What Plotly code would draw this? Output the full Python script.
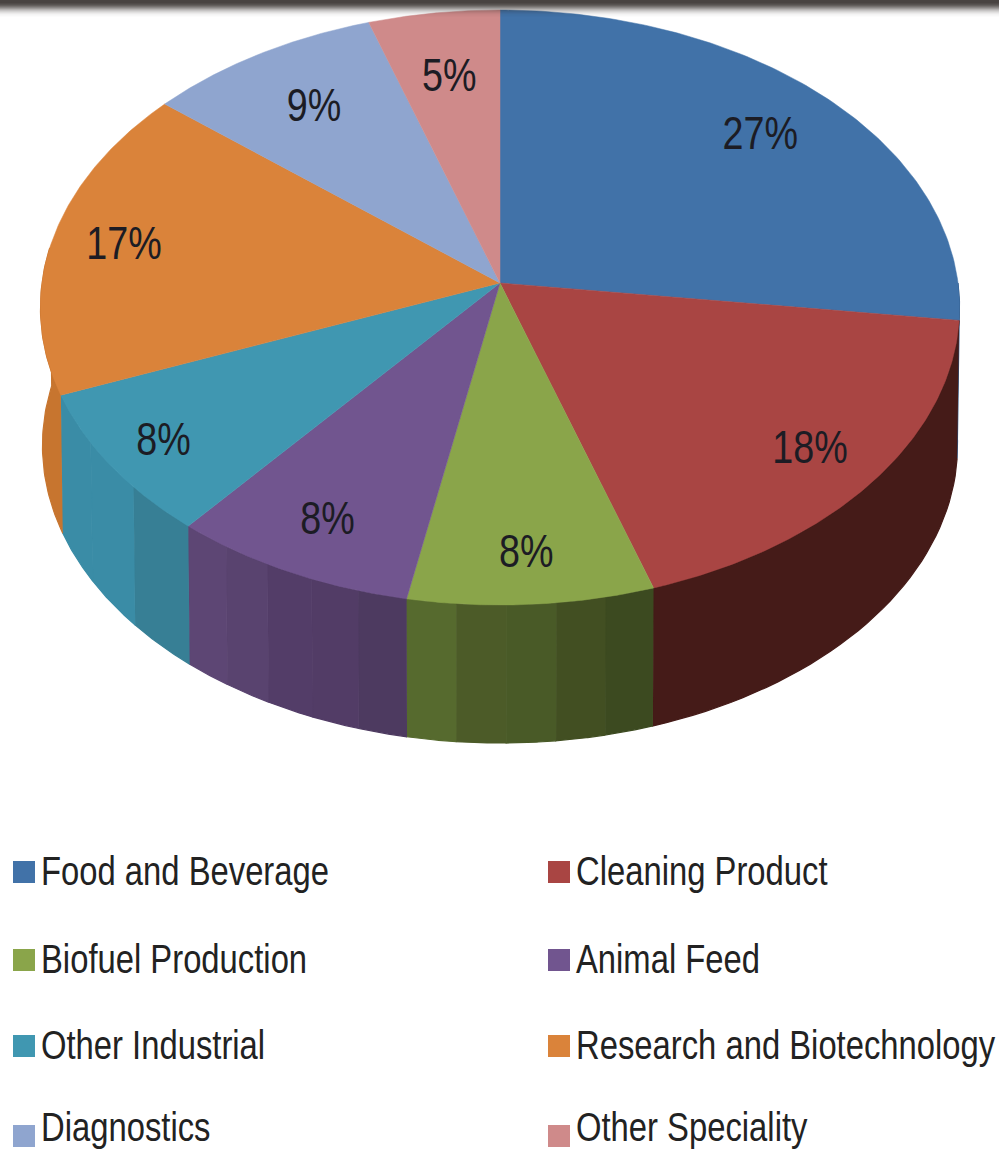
import numpy as np
import plotly.graph_objects as go

# ---- data ----
categories = ["Food and Beverage", "Cleaning Product", "Biofuel Production", "Animal Feed",
              "Other Industrial", "Research and Biotechnology", "Diagnostics", "Other Speciality"]
values = [27, 18, 8, 8, 8, 17, 9, 5]
colors = ["#4172a8", "#a94543", "#8aa54a", "#71558f", "#4097b1", "#da833a", "#8fa5cf", "#cf8a8a"]
# wall facets, going clockwise round the front of the pie
wall_colors = [
    ["#2f5480"],
    ["#451b18"],
    ["#3c4a20", "#424f22", "#495a27", "#4c5b28", "#566a2e"],
    ["#4d3a60", "#523c66", "#533d68", "#59436f", "#5d4674"],
    ["#377f95", "#3a8ca6", "#3a8ca6"],
    ["#c7752f"],
    ["#6f80a2"],
    ["#a26c6c"],
]
label_radius = [0.79, 0.84, 0.85, 0.83, 0.87, 0.84, 0.76, 0.75]

# ---- layout constants ----
W, H = 999, 1156
CX, CY = 500, 283
A, B, K = 458, 295.5, 0.0824
DEPTH = 138
A_LOW = 456
LABEL_DY = 3
NARROW = 0.82   # Liberation Sans squeezed to the proportions of a narrow face


def project(theta, r=1.0, a=A, dy=0.0):
    u, v = r * np.sin(theta), r * np.cos(theta)
    d = 1 + K * v
    return CX + a * u / d, CY + dy - B * v / d


fig = go.Figure()
shares = np.array(values, dtype=float) / sum(values)
edges = np.concatenate([[0], np.cumsum(shares)]) * 2 * np.pi

# walls: only the front of the pie can be seen
for i in range(len(values)):
    t0, t1 = edges[i], edges[i + 1]
    lo, hi = max(t0, np.pi / 2), min(t1, 3 * np.pi / 2 + 0.12)
    if hi <= lo:
        continue
    shades = wall_colors[i]
    cuts = np.linspace(lo, hi, len(shades) + 1)
    for j, shade in enumerate(shades):
        t = np.linspace(cuts[j], cuts[j + 1], 40)
        x1, y1 = project(t)
        x2, y2 = project(t[::-1], a=A_LOW, dy=DEPTH)
        fig.add_trace(go.Scatter(x=np.r_[x1, x2], y=np.r_[y1, y2], mode="lines", fill="toself",
                                 fillcolor=shade, line=dict(color=shade, width=1.2),
                                 hoverinfo="skip", showlegend=False))

# top face
for i, c in enumerate(colors):
    t = np.linspace(edges[i], edges[i + 1], 120)
    x, y = project(t)
    fig.add_trace(go.Scatter(x=np.r_[CX, x, CX], y=np.r_[CY, y, CY], mode="lines", fill="toself",
                             fillcolor=c, line=dict(color=c, width=0.5),
                             name=categories[i], hoverinfo="skip", showlegend=False))

# percentage labels
mid = (edges[:-1] + edges[1:]) / 2
lx, ly = project(mid, r=np.array(label_radius))
fig.add_trace(go.Scatter(x=lx, y=ly + LABEL_DY, mode="text", text=[f"{v}%" for v in values],
                         textposition="middle center",
                         textfont=dict(family="Liberation Sans", size=46, color="#1c1c24"),
                         hoverinfo="skip", showlegend=False))

# legend, two columns
swatch_x = [24, 559]
text_x = [41, 576]
swatch_rows_y = [872, 960, 1046, 1136]
text_rows_y = [875, 963, 1049, 1131]
for i, name in enumerate(categories):
    col, row = i % 2, i // 2
    fig.add_trace(go.Scatter(x=[swatch_x[col]], y=[swatch_rows_y[row]], mode="markers",
                             marker=dict(symbol="square", size=22, color=colors[i]),
                             hoverinfo="skip", showlegend=False))
    fig.add_trace(go.Scatter(x=[text_x[col]], y=[text_rows_y[row]], mode="text", text=[name],
                             textposition="middle right",
                             textfont=dict(family="Liberation Sans", size=40, color="#222222"),
                             hoverinfo="skip", showlegend=False))

# dark photographic band along the top edge
shapes = []
band = [0.85, 0.85, 0.85, 0.82, 0.78, 0.72, 0.64, 0.55, 0.45, 0.35, 0.27, 0.20, 0.14, 0.09, 0.05, 0.03, 0.01]
for y, alpha in enumerate(band):
    shapes.append(dict(type="rect", xref="x", yref="y", x0=0, x1=W, y0=y, y1=y + 1,
                       fillcolor=f"rgba(40,34,32,{alpha})", line=dict(width=0), layer="above"))

fig.update_layout(
    width=W, height=H, margin=dict(l=0, r=0, t=0, b=0),
    paper_bgcolor="white", plot_bgcolor="white", shapes=shapes, showlegend=False,
    xaxis=dict(range=[0, W], visible=False, fixedrange=True),
    yaxis=dict(range=[H, 0], visible=False, fixedrange=True),
)
squeeze = """
document.body.style.margin='0';
document.querySelectorAll('.textpoint text').forEach(function(t){
  var x=parseFloat(t.getAttribute('x')), y=parseFloat(t.getAttribute('y'));
  t.setAttribute('transform','translate('+x+' '+y+') scale(%s 1) translate('+(-x)+' '+(-y)+')');
});
""" % NARROW
fig.write_html("out.html", config={"displayModeBar": False}, post_script=squeeze)
